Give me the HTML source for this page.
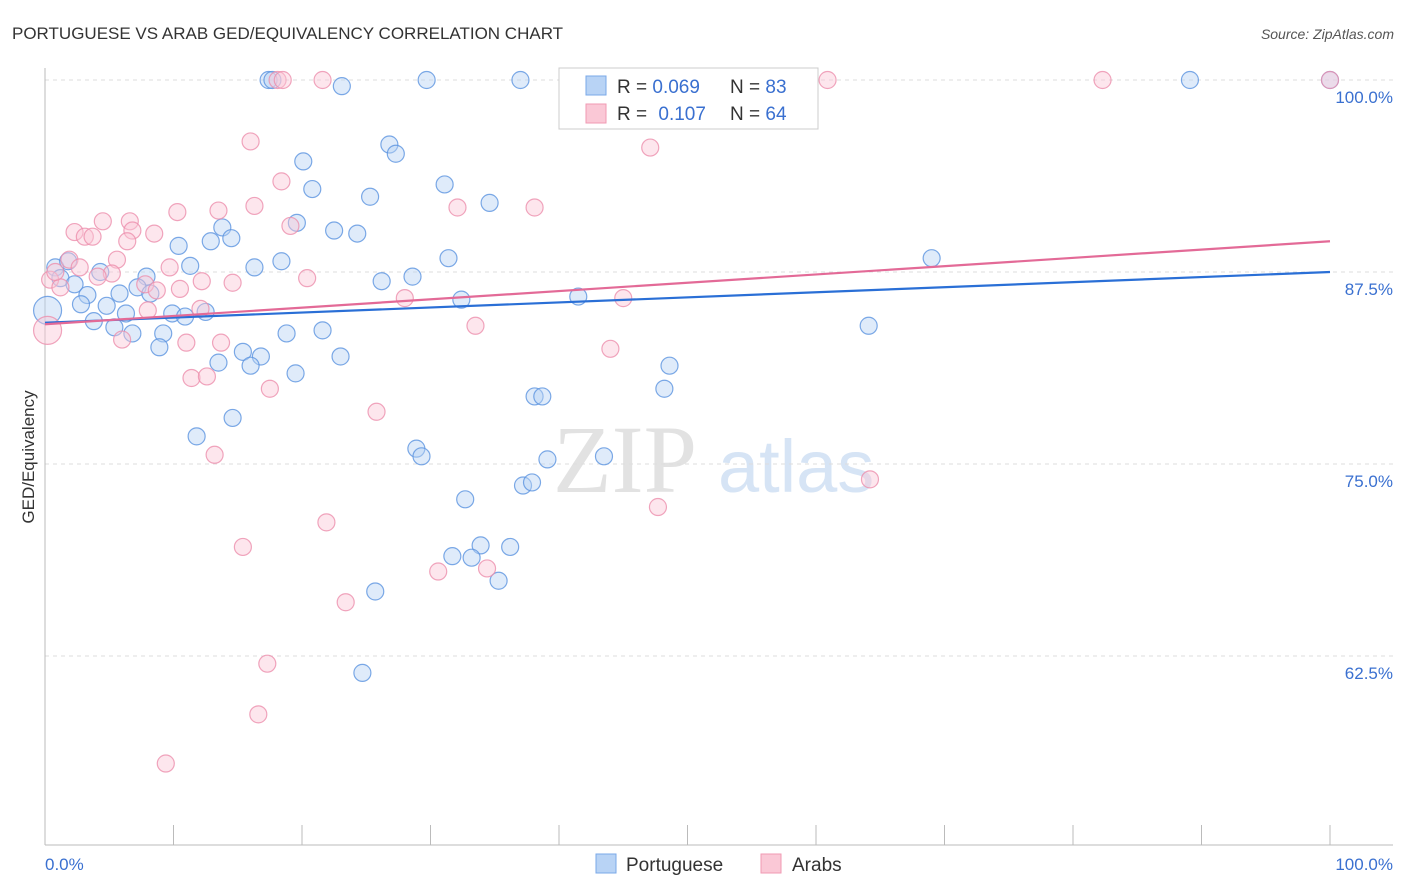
<!DOCTYPE html>
<html><head><meta charset="utf-8"><style>
body{margin:0;background:#fff;font-family:"Liberation Sans",sans-serif}
svg{display:block}
</style></head><body>
<svg width="1406" height="892" xmlns="http://www.w3.org/2000/svg">
<text x="12" y="39" font-size="17" fill="#333">PORTUGUESE VS ARAB GED/EQUIVALENCY CORRELATION CHART</text>
<text x="1394" y="39" font-size="14" fill="#555" font-style="italic" text-anchor="end">Source: ZipAtlas.com</text>
<g><text x="553" y="492" font-size="96" font-family="Liberation Serif" fill="#e2e2e2">ZIP</text><text x="718" y="492" font-size="74" fill="#d6e4f5">atlas</text></g>
<g id="grid"></g>
<g id="axes"></g>
<g id="marks"></g>
<text transform="translate(34,457) rotate(-90)" font-size="17" fill="#333" text-anchor="middle">GED/Equivalency</text>
<g>
<rect x="559" y="68" width="259" height="61" fill="#fff" stroke="#ccc"/>
<rect x="586" y="76" width="20" height="19" fill="#b8d3f5" stroke="#7aa8e8"/>
<rect x="586" y="104" width="20" height="19" fill="#fac8d6" stroke="#f09ab3"/>
<text x="617" y="93" font-size="19" fill="#333">R = <tspan fill="#3a70d0">0.069</tspan></text>
<text x="730" y="93" font-size="19" fill="#333">N = <tspan fill="#3a70d0">83</tspan></text>
<text x="617" y="120" font-size="19" fill="#333">R = <tspan fill="#3a70d0" dx="6">0.107</tspan></text>
<text x="730" y="120" font-size="19" fill="#333">N = <tspan fill="#3a70d0">64</tspan></text>
</g>
<g>
<rect x="596" y="854" width="20" height="19" fill="#b8d3f5" stroke="#7aa8e8"/>
<text x="626" y="871" font-size="19" fill="#333">Portuguese</text>
<rect x="761" y="854" width="20" height="19" fill="#fac8d6" stroke="#f09ab3"/>
<text x="792" y="871" font-size="19" fill="#333">Arabs</text>
</g>
</svg>
<script>
const yTicks=[100,87.5,75,62.5];
const yTickLabels=["100.0%","87.5%","75.0%","62.5%"];
const xTickLabels=["0.0%","100.0%"];
const bluex=[17.4,17.7,23.1,29.7,37.0,45.5,89.1,100,26.8,27.3,20.1,20.8,31.1,25.3,34.6,19.6,13.8,22.5,24.3,12.9,14.5,10.4,31.4,69.0,11.3,16.3,18.4,0.8,1.8,1.2,4.3,7.9,26.2,28.6,2.3,3.3,5.8,7.2,8.2,41.5,32.4,2.8,4.8,9.9,10.9,12.5,6.3,3.8,5.4,6.8,9.2,18.8,21.6,64.1,8.9,15.4,16.8,23.0,13.5,16.0,48.6,19.5,48.2,38.1,38.7,14.6,11.8,28.9,29.3,39.1,43.5,32.7,37.2,37.9,33.9,36.2,31.7,33.2,35.3,25.7,24.7,0.2];
const bluey=[100,100,99.6,100,100,100,100,100,95.8,95.2,94.7,92.9,93.2,92.4,92.0,90.7,90.4,90.2,90.0,89.5,89.7,89.2,88.4,88.4,87.9,87.8,88.2,87.8,88.2,87.1,87.5,87.2,86.9,87.2,86.7,86.0,86.1,86.5,86.1,85.9,85.7,85.4,85.3,84.8,84.6,84.9,84.8,84.3,83.9,83.5,83.5,83.5,83.7,84.0,82.6,82.3,82.0,82.0,81.6,81.4,81.4,80.9,79.9,79.4,79.4,78.0,76.8,76.0,75.5,75.3,75.5,72.7,73.6,73.8,69.7,69.6,69.0,68.9,67.4,66.7,61.4,85.0];
const pinkx=[18.1,18.5,21.6,60.9,82.3,100,16.0,47.1,18.4,10.3,13.5,16.3,32.1,38.1,4.5,6.6,19.1,2.3,3.1,3.7,8.5,6.8,6.4,1.9,5.6,9.7,5.2,4.1,7.8,20.4,12.2,14.6,2.7,0.4,1.2,28.0,45.0,8.7,10.5,12.1,8.0,33.5,6.0,11.0,13.7,44.0,11.4,12.6,17.5,25.8,13.2,64.2,47.7,21.9,15.4,30.6,34.4,23.4,17.3,16.6,9.4,0.2,0.8];
const pinky=[100,100,100,100,100,100,96.0,95.6,93.4,91.4,91.5,91.8,91.7,91.7,90.8,90.8,90.5,90.1,89.8,89.8,90.0,90.2,89.5,88.3,88.3,87.8,87.4,87.2,86.7,87.1,86.9,86.8,87.8,87.0,86.5,85.8,85.8,86.3,86.4,85.1,85.0,84.0,83.1,82.9,82.9,82.5,80.6,80.7,79.9,78.4,75.6,74.0,72.2,71.2,69.6,68.0,68.2,66.0,62.0,58.7,55.5,83.7,87.5];
const blueTrend=[84.2,87.5];
const pinkTrend=[84.1,89.5];
const NS="http://www.w3.org/2000/svg";
const X0=45,X1=1330,YP100=80,PX_PER=192/12.5;
const sx=v=>X0+(X1-X0)*v/100;
const sy=v=>YP100+(100-v)*PX_PER;
function mk(tag,attrs,parent){const e=document.createElementNS(NS,tag);for(const k in attrs)e.setAttribute(k,attrs[k]);parent.appendChild(e);return e;}
const grid=document.getElementById('grid'),axes=document.getElementById('axes'),marks=document.getElementById('marks');
yTicks.forEach((t,i)=>{
 const l=mk('line',{x1:X0,x2:1393,y1:sy(t),y2:sy(t),stroke:'#ddd','stroke-dasharray':'4,4'},grid);
 
 
 const tx=mk('text',{x:1393,y:sy(t)+23,'font-size':17,fill:'#3a70d0','text-anchor':'end'},axes);
 tx.textContent=yTickLabels[i];
 
 
});
const ya=mk('line',{x1:X0,x2:X0,y1:68,y2:845,stroke:'#bbb'},axes);


const xa=mk('line',{x1:X0,x2:1393,y1:845,y2:845,stroke:'#bbb'},axes);


for(let i=1;i<=10;i++){const t=mk('line',{x1:sx(i*10),x2:sx(i*10),y1:825,y2:845,stroke:'#bbb'},axes);
 
 }
[[X0,'start',0],[1393,'end',1]].forEach(([x,a,i])=>{const t=mk('text',{x:x,y:870,'font-size':17,fill:'#3a70d0','text-anchor':a},axes);t.textContent=xTickLabels[i];
 
 });
function dots(xs,ys,fill,stroke,name){xs.forEach((x,i)=>{const big=(i===xs.length-1&&name==='blue-point')||(i===xs.length-2&&name==='pink-point');
 const c=mk('circle',{cx:sx(x),cy:sy(ys[i]),r:big?14:8.5,fill:fill,'fill-opacity':0.45,stroke:stroke,'stroke-opacity':0.8,'stroke-width':1.2},marks);
 
 });}
dots(bluex,bluey,'#b8d3f5','#5b93e0','blue-point');
dots(pinkx,pinky,'#fac8d6','#ec8fac','pink-point');
const bl=mk('line',{x1:sx(0),y1:sy(blueTrend[0]),x2:sx(100),y2:sy(blueTrend[1]),stroke:'#2a6fd6','stroke-width':2.2},marks);


const pl=mk('line',{x1:sx(0),y1:sy(pinkTrend[0]),x2:sx(100),y2:sy(pinkTrend[1]),stroke:'#e36a97','stroke-width':2.2},marks);


</script>
</body></html>
